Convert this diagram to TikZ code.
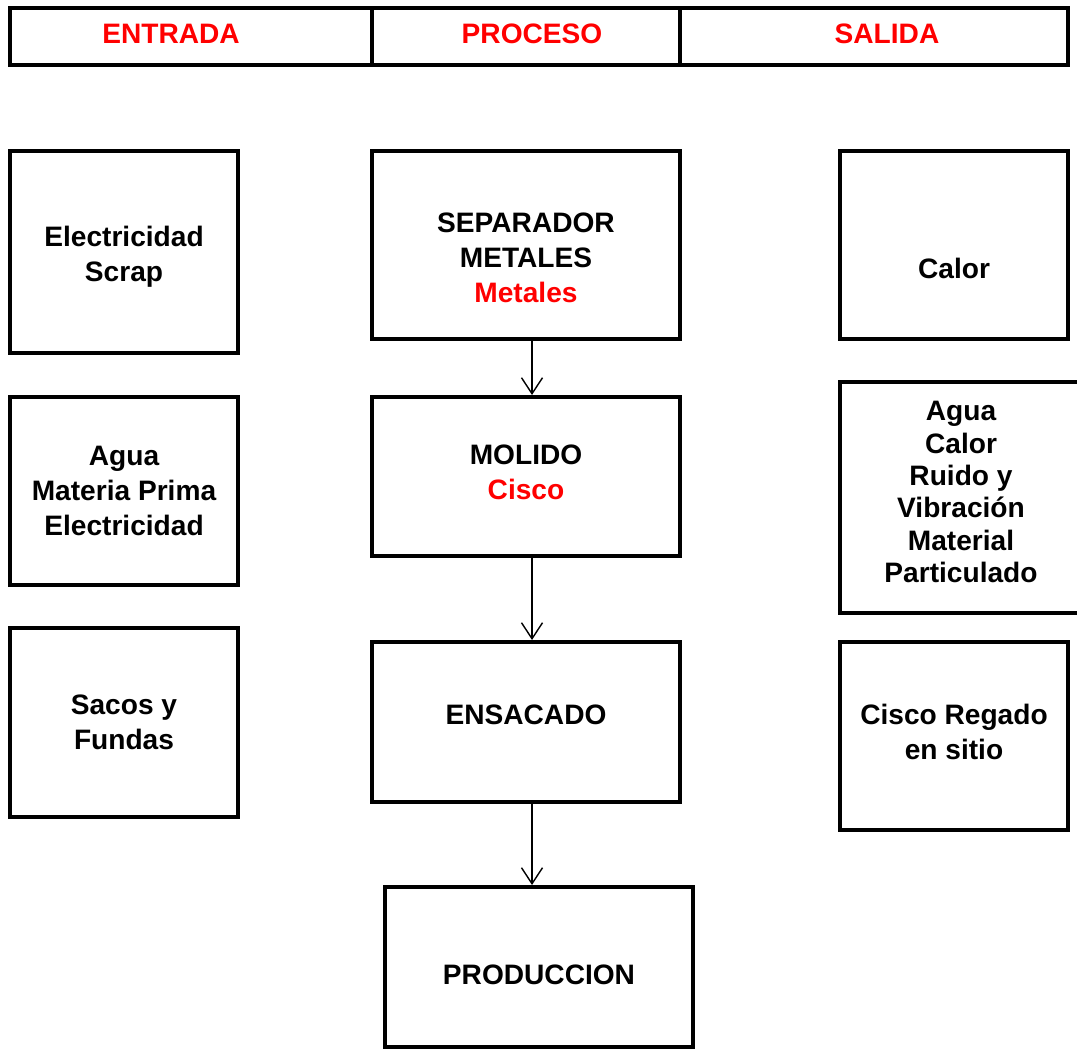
\documentclass[tikz,border=0pt]{standalone}
\usepackage{fontspec}
\setmainfont{Liberation Sans}
\usepackage{xcolor}
\usetikzlibrary{arrows.meta, positioning}
\definecolor{headred}{HTML}{FF0000}

\begin{document}
\begin{tikzpicture}[
    x=0.02cm, y=-0.02cm,
    txt/.style={align=center, font=\bfseries\fontsize{16}{19.9}\selectfont, inner sep=0pt},
    head/.style={draw, line width=2pt, minimum height=1.14cm, inner sep=0pt},
    stage/.style={txt, draw, line width=2.3pt, fill=white},
    flow/.style={-{Straight Barb[length=0.32cm, width=0.42cm]}, line width=0.8pt}
]
\useasboundingbox (0,0) rectangle (1077,1048);
% encabezado
\node[head, minimum width=7.24cm] (hin) at (191,36.5) {};
\node[head, minimum width=6.16cm] (hproc) at (526,36.5) {};
\node[head, minimum width=7.76cm] (hout) at (874,36.5) {};
\node[txt, text=headred] (hintxt) at (171,34) {ENTRADA};
\node[txt, text=headred] (hproctxt) at (532,34) {PROCESO};
\node[txt, text=headred] (houttxt) at (887,34) {SALIDA};
% entradas
\node[stage, minimum width=4.56cm, minimum height=4.04cm] (in1) at (124,252) {};
\node[txt] (in1txt) at (124,257) {Electricidad\\Scrap};
\node[stage, minimum width=4.56cm, minimum height=3.76cm] (in2) at (124,491) {Agua\\Materia Prima\\Electricidad};
\node[stage, minimum width=4.56cm, minimum height=3.78cm] (in3) at (124,722.5) {Sacos y\\Fundas};
% proceso
\node[stage, minimum width=6.16cm, minimum height=3.76cm] (sep) at (526,245) {};
\node[txt] (septxt) at (526,258) {SEPARADOR\\METALES\\\textcolor{headred}{Metales}};
\node[stage, minimum width=6.16cm, minimum height=3.18cm] (mol) at (526,476.5) {};
\node[txt] (moltxt) at (526,472) {MOLIDO\\\textcolor{headred}{Cisco}};
\node[stage, minimum width=6.16cm, minimum height=3.2cm] (ens) at (526,722) {};
\node[txt] (enstxt) at (526,715) {ENSACADO};
\node[stage, minimum width=6.16cm, minimum height=3.2cm] (prod) at (539,967) {};
\node[txt] (prodtxt) at (539,975) {PRODUCCION};
% salidas
\node[stage, minimum width=4.56cm, minimum height=3.76cm] (out1) at (954,245) {};
\node[txt] (out1txt) at (954,268) {Calor};
\node[stage, minimum width=5.0cm, minimum height=4.62cm] (out2) at (965,497.5) {};
\node[txt, font=\bfseries\fontsize{16}{18.4}\selectfont] (out2txt) at (961,492) {Agua\\Calor\\Ruido y\\Vibración\\Material\\Particulado};
\node[stage, minimum width=4.56cm, minimum height=3.76cm] (out3) at (954,736) {};
\node[txt] (out3txt) at (954,732) {Cisco Regado\\en sitio};
% flechas
\coordinate (ax) at (532,0);
\draw[flow] (sep.south -| ax) -- (mol.north -| ax);
\draw[flow] (mol.south -| ax) -- (ens.north -| ax);
\draw[flow] (ens.south -| ax) -- (prod.north -| ax);
\end{tikzpicture}
\end{document}
